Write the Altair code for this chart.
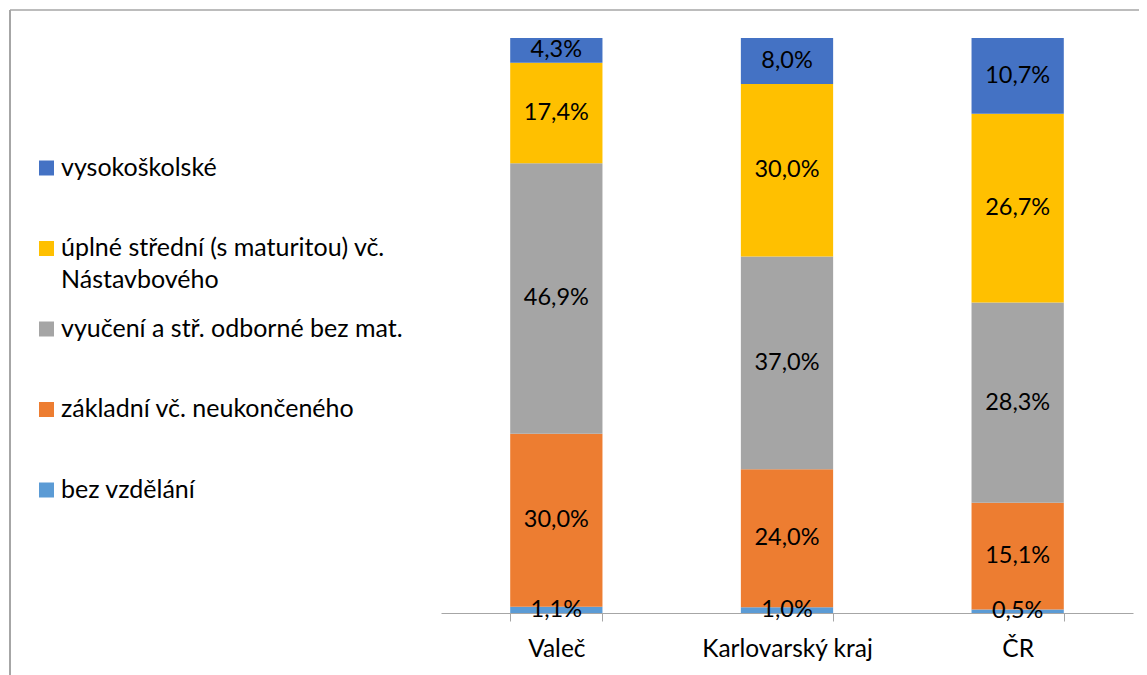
import altair as alt
import pandas as pd

# ---- data ----
categories = ["Valeč", "Karlovarský kraj", "ČR"]
levels = [
    "bez vzdělání",
    "základní vč. neukončeného",
    "vyučení a stř. odborné bez mat.",
    "úplné střední (s maturitou) vč. Nástavbového",
    "vysokoškolské",
]
legend_text = [
    "bez vzdělání",
    "základní vč. neukončeného",
    "vyučení a stř. odborné bez mat.",
    "úplné střední (s maturitou) vč.\nNástavbového",
    "vysokoškolské",
]
colors = ["#5B9BD5", "#ED7D31", "#A5A5A5", "#FFC000", "#4472C4"]

bez_vzdelani = [1.1, 1.0, 0.5]
zakladni = [30.0, 24.0, 15.1]
vyuceni = [46.9, 37.0, 28.3]
uplne_stredni = [17.4, 30.0, 26.7]
vysokoskolske = [4.3, 8.0, 10.7]
series = [bez_vzdelani, zakladni, vyuceni, uplne_stredni, vysokoskolske]

rows = []
for li, (lev, vals) in enumerate(zip(levels, series)):
    for c, v in zip(categories, vals):
        rows.append({"kat": c, "stupen": lev, "poradi": li, "hodnota": v})
df = pd.DataFrame(rows)
leg_df = pd.DataFrame({"stupen": levels, "text": legend_text})

# ---- layout ----
W, H = 1131, 667
FONT = "Lato"
FS_DATA = 23.5
FS_AXIS = 24.5
FS_LEG = 25

x_scale = alt.Scale(domain=categories, range=[433, 1125], paddingInner=0.6, paddingOuter=0.3)
y_scale = alt.Scale(domain=[0, 1], range=[605, 30])
color_scale = alt.Scale(domain=levels, range=colors)
leg_y = alt.Scale(type="point", domain=levels[::-1], range=[160, 482], padding=0)

base = alt.Chart(df).transform_stack(
    stack="hodnota",
    groupby=["kat"],
    as_=["y0", "y1"],
    offset="normalize",
    sort=[alt.SortField("poradi", order="ascending")],
).transform_calculate(
    ym="(datum.y0 + datum.y1) / 2",
    lbl="replace(format(datum.hodnota, '.1f'), '.', ',') + '%'",
)

bars = base.mark_bar().encode(
    x=alt.X(
        "kat:N",
        scale=x_scale,
        sort=categories,
        title=None,
        axis=alt.Axis(
            orient="bottom",
            offset=-(H - 605),
            labelAngle=0,
            labelFont=FONT,
            labelFontSize=FS_AXIS,
            labelColor="#000000",
            labelPadding=16,
            domainColor="#A6A6A6",
            tickColor="#A6A6A6",
            tickSize=8,
            tickBand="extent",
            grid=False,
        ),
    ),
    y=alt.Y("y0:Q", scale=y_scale, axis=None),
    y2="y1:Q",
    color=alt.Color("stupen:N", scale=color_scale, legend=None),
)

labels = base.mark_text(font=FONT, fontSize=FS_DATA, color="#000000").encode(
    x=alt.X("kat:N", scale=x_scale, sort=categories, title=None),
    y=alt.Y("ym:Q", scale=y_scale, axis=None),
    text="lbl:N",
)

leg_sym = alt.Chart(leg_df).mark_square(size=225, opacity=1).encode(
    x=alt.value(38.5),
    y=alt.Y("stupen:N", scale=leg_y, axis=None),
    color=alt.Color("stupen:N", scale=color_scale, legend=None),
)

leg_txt = alt.Chart(leg_df).mark_text(
    font=FONT,
    fontSize=FS_LEG,
    color="#000000",
    align="left",
    baseline="alphabetic",
    dy=FS_LEG * 0.3,
    lineBreak="\n",
    lineHeight=32,
).encode(
    x=alt.value(53),
    y=alt.Y("stupen:N", scale=leg_y, axis=None),
    text="text:N",
)

frame_df = pd.DataFrame({"k": [0]})
frame_left = alt.Chart(frame_df).mark_rule(color="#A6A6A6", strokeWidth=2).encode(
    x=alt.value(2), y=alt.value(2), y2=alt.value(H)
)
frame_top = alt.Chart(frame_df).mark_rule(color="#A6A6A6", strokeWidth=1.5).encode(
    x=alt.value(2), x2=alt.value(W), y=alt.value(2)
)

chart = (
    alt.layer(frame_left, frame_top, bars, labels, leg_sym, leg_txt)
    .resolve_scale(y="independent")
    .properties(width=W, height=H, padding=0, autosize="none")
    .configure_view(stroke=None)
)

chart.save("out.html", embed_options={"renderer": "svg", "actions": False})
